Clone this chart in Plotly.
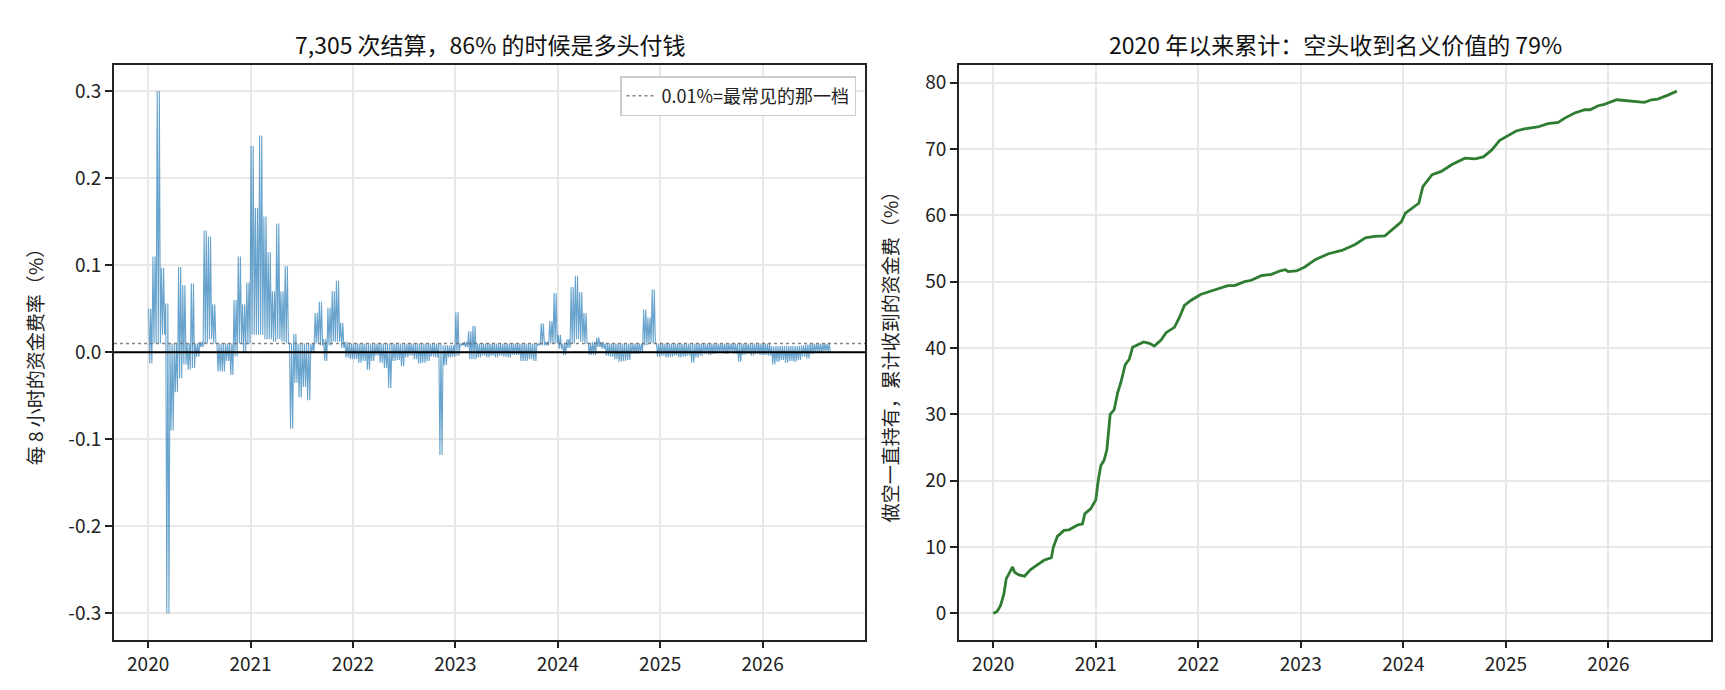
import plotly.graph_objects as go

FONT = "Noto Sans CJK SC"
W, H = 1725, 690

# ---------------- left panel data: funding rate per 8h (%) ----------------
# half-month bins (24 per year) starting Jan 2020; high / low value within each bin
BINS_PER_YEAR = 24
START_YEAR = 2020

hi_2020 = [0.05, 0.11, 0.30, 0.097, 0.056, 0.01, 0.01, 0.098, 0.077, 0.01, 0.079, 0.01,
           0.012, 0.14, 0.133, 0.055, 0.01, 0.01, 0.01, 0.01, 0.06, 0.11, 0.055, 0.08]
lo_2020 = [-0.013, 0.01, 0.01, 0.02, -0.30, -0.09, -0.046, -0.03, -0.014, -0.02, -0.018, -0.005,
           0.006, 0.01, 0.015, 0.01, -0.022, -0.022, -0.01, -0.026, -0.005, 0.01, 0.0, 0.01]

hi_2021 = [0.237, 0.166, 0.249, 0.156, 0.115, 0.07, 0.148, 0.07, 0.099, 0.01, 0.021, 0.01,
           0.01, 0.01, 0.01, 0.045, 0.058, 0.015, 0.051, 0.07, 0.082, 0.034, 0.012, 0.01]
lo_2021 = [0.02, 0.02, 0.02, 0.015, 0.015, 0.012, 0.015, 0.012, 0.01, -0.088, -0.035, -0.052,
           -0.04, -0.055, 0.0, 0.01, 0.008, -0.01, 0.008, 0.012, 0.012, 0.005, -0.006, -0.008]

hi_2022 = [0.01, 0.01, 0.01, 0.01, 0.01, 0.01, 0.01, 0.01, 0.01, 0.01, 0.01, 0.01,
           0.01, 0.01, 0.01, 0.01, 0.01, 0.01, 0.01, 0.01, 0.01, 0.008, 0.008, 0.008]
lo_2022 = [-0.008, -0.012, -0.01, -0.02, -0.01, -0.004, -0.012, -0.018, -0.041, -0.01, -0.009, -0.016,
           -0.006, -0.004, -0.008, -0.013, -0.012, -0.01, -0.005, -0.006, -0.118, -0.015, -0.006, -0.005]

hi_2023 = [0.046, 0.01, 0.012, 0.024, 0.03, 0.01, 0.01, 0.01, 0.01, 0.01, 0.01, 0.01,
           0.01, 0.01, 0.01, 0.01, 0.01, 0.01, 0.01, 0.01, 0.033, 0.012, 0.036, 0.068]
lo_2023 = [-0.004, 0.008, 0.006, -0.008, -0.008, -0.006, -0.004, -0.006, -0.004, -0.006, -0.004, -0.005,
           -0.006, -0.003, -0.003, -0.01, -0.01, -0.008, -0.01, 0.008, 0.008, 0.008, 0.01, 0.01]

hi_2024 = [0.02, 0.01, 0.015, 0.075, 0.088, 0.069, 0.045, 0.01, 0.012, 0.017, 0.012, 0.01,
           0.01, 0.01, 0.01, 0.01, 0.01, 0.01, 0.01, 0.01, 0.049, 0.04, 0.072, 0.01]
lo_2024 = [0.004, -0.003, 0.005, 0.01, 0.015, 0.012, 0.01, -0.003, -0.003, 0.006, 0.004, -0.004,
           -0.005, -0.008, -0.011, -0.01, -0.009, -0.002, -0.002, 0.0, 0.008, 0.01, 0.01, -0.005]

hi_2025 = [0.01, 0.01, 0.01, 0.01, 0.01, 0.01, 0.01, 0.01, 0.01, 0.01, 0.01, 0.01,
           0.01, 0.01, 0.01, 0.01, 0.01, 0.01, 0.01, 0.01, 0.01, 0.01, 0.01, 0.01]
lo_2025 = [-0.004, -0.006, -0.005, -0.004, -0.006, -0.005, -0.004, -0.012, -0.006, -0.004, -0.002, -0.003,
           -0.002, -0.001, -0.001, -0.002, 0.0, -0.002, -0.011, -0.003, -0.002, -0.004, -0.002, -0.003]

hi_2026 = [0.01, 0.01, 0.007, 0.007, 0.007, 0.007, 0.007, 0.007, 0.007, 0.008, 0.009, 0.01,
           0.01, 0.01, 0.01, 0.01]
lo_2026 = [-0.003, -0.004, -0.014, -0.011, -0.009, -0.012, -0.01, -0.011, -0.009, -0.005, -0.007, -0.002,
           0.0, -0.001, 0.001, 0.0]

rate_hi = hi_2020 + hi_2021 + hi_2022 + hi_2023 + hi_2024 + hi_2025 + hi_2026
rate_lo = lo_2020 + lo_2021 + lo_2022 + lo_2023 + lo_2024 + lo_2025 + lo_2026

COMMON_RATE = 0.01

# ---------------- right panel data: cumulative funding received by shorts (%) ----------------
cum_year = [2020.0, 2020.039, 2020.072, 2020.104, 2020.127, 2020.170, 2020.189, 2020.209, 2020.251,
            2020.306, 2020.365, 2020.430, 2020.496, 2020.567, 2020.587, 2020.626, 2020.691, 2020.740,
            2020.822, 2020.871, 2020.893, 2020.952, 2021.001, 2021.024, 2021.050, 2021.082, 2021.109,
            2021.141, 2021.180, 2021.213, 2021.245, 2021.288, 2021.327, 2021.360, 2021.409, 2021.467,
            2021.523, 2021.572, 2021.637, 2021.686, 2021.767, 2021.816, 2021.865, 2021.930, 2022.028,
            2022.126, 2022.224, 2022.289, 2022.354, 2022.452, 2022.517, 2022.615, 2022.713, 2022.794,
            2022.850, 2022.876, 2022.957, 2023.039, 2023.14, 2023.27, 2023.40, 2023.53, 2023.63,
            2023.72, 2023.82, 2023.92, 2023.98, 2024.02, 2024.08, 2024.15, 2024.19, 2024.28, 2024.37,
            2024.47, 2024.60, 2024.70, 2024.78, 2024.86, 2024.94, 2025.01, 2025.10, 2025.18, 2025.31,
            2025.41, 2025.51, 2025.57, 2025.67, 2025.77, 2025.82, 2025.90, 2025.96, 2026.08, 2026.16,
            2026.27, 2026.35, 2026.42, 2026.48, 2026.58, 2026.667]
cum_value = [0, 0.3, 1.2, 2.9, 5.2, 6.3, 7.0, 6.2, 5.8,
             5.6, 6.6, 7.3, 8.0, 8.4, 10.0, 11.6, 12.5, 12.6,
             13.3, 13.5, 15.0, 15.8, 17.1, 20.0, 22.3, 23.1, 24.7,
             30.0, 30.7, 33.2, 34.8, 37.5, 38.3, 40.1, 40.5, 40.9,
             40.7, 40.3, 41.2, 42.3, 43.1, 44.6, 46.4, 47.2, 48.1,
             48.6, 49.0, 49.4, 49.4, 50.0, 50.2, 50.9, 51.1, 51.6,
             51.8, 51.5, 51.6, 52.2, 53.3, 54.2, 54.7, 55.6, 56.6,
             56.8, 56.9, 58.3, 59.0, 60.3, 61.0, 61.8, 64.3, 66.1, 66.6,
             67.6, 68.6, 68.5, 68.8, 69.8, 71.3, 71.9, 72.7, 73.0, 73.3,
             73.8, 74.0, 74.6, 75.4, 75.9, 75.9, 76.5, 76.7, 77.4, 77.3,
             77.2, 77.0, 77.4, 77.5, 78.1, 78.7]

year_ticks = [2020, 2021, 2022, 2023, 2024, 2025, 2026]
left_ticks = [-0.3, -0.2, -0.1, 0.0, 0.1, 0.2, 0.3]
right_ticks = [0, 10, 20, 30, 40, 50, 60, 70, 80]

title_left = "7,305 次结算，86% 的时候是多头付钱"
title_right = "2020 年以来累计：空头收到名义价值的 79%"
ylabel_left = "每 8 小时的资金费率（%）"
ylabel_right = "做空一直持有，累计收到的资金费（%）"
legend_label = "0.01%=最常见的那一档"

# ---------------- draw each bin's range as a dense up/down stroke ----------------
STROKES_PER_BIN = 2
xs, ys = [], []
for i, (h, l) in enumerate(zip(rate_hi, rate_lo)):
    t0 = START_YEAR + i / BINS_PER_YEAR
    n = 2 * STROKES_PER_BIN
    for k in range(n):
        xs.append(t0 + (k + 0.5) / n / BINS_PER_YEAR)
        ys.append(h if k % 2 == 0 else l)

x_lo, x_hi = 2020.0, START_YEAR + len(rate_hi) / BINS_PER_YEAR
pad = (x_hi - x_lo) * 0.05
XR = [x_lo - pad, x_hi + pad]

fig = go.Figure()
fig.add_trace(go.Scatter(x=xs, y=ys, mode="lines", xaxis="x", yaxis="y",
                         line=dict(color="rgba(31,119,180,0.68)", width=1.1),
                         showlegend=False, hoverinfo="skip"))
fig.add_trace(go.Scatter(x=XR, y=[COMMON_RATE, COMMON_RATE], mode="lines", xaxis="x", yaxis="y",
                         line=dict(color="rgba(110,110,110,0.85)", width=1.6, dash="dot"),
                         name=legend_label, showlegend=True))
fig.add_trace(go.Scatter(x=cum_year, y=cum_value, mode="lines", xaxis="x2", yaxis="y2",
                         line=dict(color="#2e7d32", width=2.8),
                         showlegend=False))

ydom = [1 - 631.5 / H, 1 - 57 / H]
axis_common = dict(showline=True, linecolor="#222222", linewidth=1.8, mirror=True,
                   ticks="outside", ticklen=7, tickwidth=1.6, tickcolor="#222222",
                   showgrid=True, gridcolor="#e8e8e8", gridwidth=1.5, zeroline=False,
                   tickfont=dict(family=FONT, size=19, color="#222222"))

fig.update_layout(
    width=W, height=H,
    margin=dict(l=0, r=0, t=0, b=0),
    paper_bgcolor="white", plot_bgcolor="white",
    font=dict(family=FONT, color="#222222"),
    xaxis=dict(domain=[106 / W, 857 / W], range=XR, anchor="y",
               tickvals=year_ticks, ticktext=[str(y) for y in year_ticks], **axis_common),
    yaxis=dict(domain=ydom, range=[-0.33, 0.33], anchor="x",
               tickvals=left_ticks, ticktext=[f"{v:.1f}" for v in left_ticks], **axis_common),
    xaxis2=dict(domain=[951 / W, 1703 / W], range=XR, anchor="y2",
                tickvals=year_ticks, ticktext=[str(y) for y in year_ticks], **axis_common),
    yaxis2=dict(domain=ydom, range=[-3.935, 82.64], anchor="x2",
                tickvals=right_ticks, ticktext=[str(v) for v in right_ticks], **axis_common),
    legend=dict(x=848 / W, xanchor="right", y=1 - 68 / H, yanchor="top",
                bgcolor="white", bordercolor="#cccccc", borderwidth=1.5,
                font=dict(family=FONT, size=18, color="#222222")),
    shapes=[dict(type="line", xref="x domain", x0=0, x1=1, yref="y", y0=0, y1=0,
                 line=dict(color="black", width=2), layer="above")],
    annotations=[
        dict(text=title_left, x=(106 + 857) / 2 / W, y=1 - 36 / H, xref="paper", yref="paper",
             showarrow=False, xanchor="center", yanchor="middle",
             font=dict(family=FONT, size=23, color="#111111")),
        dict(text=title_right, x=(951 + 1703) / 2 / W, y=1 - 36 / H, xref="paper", yref="paper",
             showarrow=False, xanchor="center", yanchor="middle",
             font=dict(family=FONT, size=23, color="#111111")),
        dict(text=ylabel_left, x=26 / W, y=(ydom[0] + ydom[1]) / 2, xref="paper", yref="paper",
             showarrow=False, textangle=-90, xanchor="center", yanchor="middle",
             font=dict(family=FONT, size=19, color="#222222")),
        dict(text=ylabel_right, x=881 / W, y=(ydom[0] + ydom[1]) / 2, xref="paper", yref="paper",
             showarrow=False, textangle=-90, xanchor="center", yanchor="middle",
             font=dict(family=FONT, size=19, color="#222222")),
    ],
)

fig.write_html("out.html")
